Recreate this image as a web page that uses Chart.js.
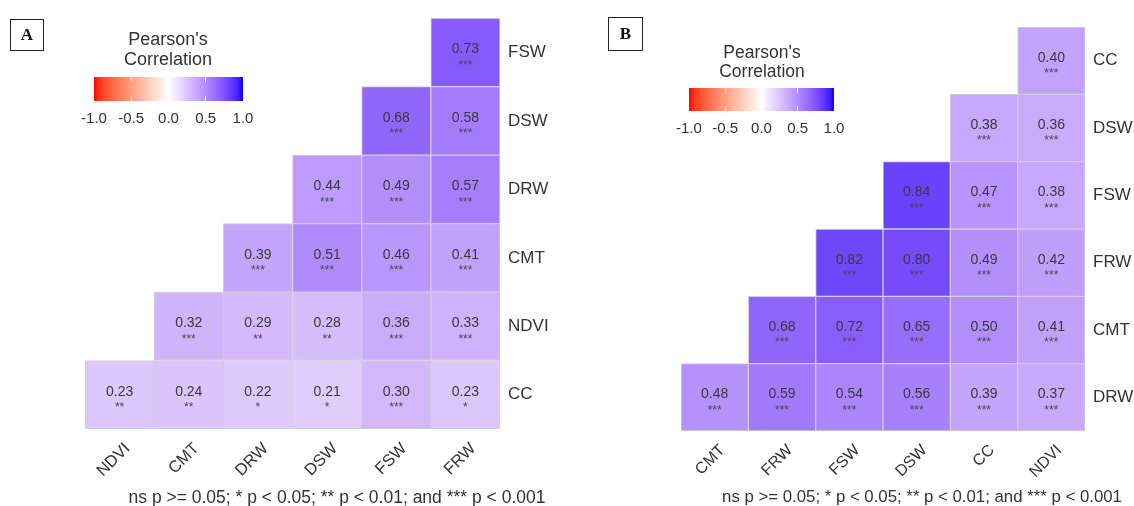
<!DOCTYPE html>
<html>
<head>
<meta charset="utf-8">
<script src="https://cdn.jsdelivr.net/npm/chart.js@4.4.1/dist/chart.umd.min.js"></script>
<style>
    body { margin: 0; background: #fff; width: 1134px; height: 506px; position: relative; overflow: hidden;
           font-family: "Liberation Sans", Arial, sans-serif; color: #333; }
    canvas { position: absolute; top: 0; }
    .tag { position: absolute; border: 1.5px solid #222; box-sizing: border-box; text-align: center;
           font: bold 17px "Liberation Serif", serif; color: #111; }
    .ttl { position: absolute; text-align: center; width: 200px; margin-left: -100px; color: #333; }
    .cbar { position: absolute; }
    .tk { position: absolute; width: 1px; background: #fff; }
    .tl { position: absolute; width: 40px; margin-left: -20px; text-align: center; line-height: 16px; color: #333; }
    .note { position: absolute; white-space: nowrap; transform: translateX(-50%); line-height: 20px; color: #333; }
</style>
</head>
<body>
<canvas id="heatA" width="567" height="506" style="left:0"></canvas>
<canvas id="heatB" width="567" height="506" style="left:567px"></canvas>

<script>
// panel A: rows listed bottom -> top
const colsA = ['NDVI', 'CMT', 'DRW', 'DSW', 'FSW', 'FRW'];
const rowsA = ['CC', 'NDVI', 'CMT', 'DRW', 'DSW', 'FSW'];
const corrA = [
    [0.23, 0.24, 0.22, 0.21, 0.30, 0.23],
    [null, 0.32, 0.29, 0.28, 0.36, 0.33],
    [null, null, 0.39, 0.51, 0.46, 0.41],
    [null, null, null, 0.44, 0.49, 0.57],
    [null, null, null, null, 0.68, 0.58],
    [null, null, null, null, null, 0.73]
];
const sigA = [
    ['**', '**', '*', '*', '***', '*'],
    ['', '***', '**', '**', '***', '***'],
    ['', '', '***', '***', '***', '***'],
    ['', '', '', '***', '***', '***'],
    ['', '', '', '', '***', '***'],
    ['', '', '', '', '', '***']
];

// panel B
const colsB = ['CMT', 'FRW', 'FSW', 'DSW', 'CC', 'NDVI'];
const rowsB = ['DRW', 'CMT', 'FRW', 'FSW', 'DSW', 'CC'];
const corrB = [
    [0.48, 0.59, 0.54, 0.56, 0.39, 0.37],
    [null, 0.68, 0.72, 0.65, 0.50, 0.41],
    [null, null, 0.82, 0.80, 0.49, 0.42],
    [null, null, null, 0.84, 0.47, 0.38],
    [null, null, null, null, 0.38, 0.36],
    [null, null, null, null, null, 0.40]
];
const sigB = [
    ['***', '***', '***', '***', '***', '***'],
    ['', '***', '***', '***', '***', '***'],
    ['', '', '***', '***', '***', '***'],
    ['', '', '', '***', '***', '***'],
    ['', '', '', '', '***', '***'],
    ['', '', '', '', '', '***']
];

const legendTicks = [-1.0, -0.5, 0.0, 0.5, 1.0];
const footnote = 'ns p >= 0.05; * p < 0.05; ** p < 0.01; and *** p < 0.001';

// red - white - blue, interpolated in CIELAB like ggplot's gradient2
const labWhite = [100, 0, 0];
const labRed = [53.24, 80.09, 67.20];
const labBlue = [32.30, 79.19, -107.86];

function labToRgb(L, a, b, haze) {
    const fy = (L + 16) / 116, fx = fy + a / 500, fz = fy - b / 200;
    const f = t => t * t * t > 0.008856 ? t * t * t : (t - 16 / 116) / 7.787;
    const X = 0.95047 * f(fx), Y = f(fy), Z = 1.08883 * f(fz);
    const lin = [
        3.2406 * X - 1.5372 * Y - 0.4986 * Z,
        -0.9689 * X + 1.8758 * Y + 0.0415 * Z,
        0.0557 * X - 0.2040 * Y + 1.0570 * Z
    ];
    const grey = [175, 170, 195];
    const out = lin.map((c, k) => {
        c = Math.min(1, Math.max(0, c));
        c = c <= 0.0031308 ? 12.92 * c : 1.055 * Math.pow(c, 1 / 2.4) - 0.055;
        return Math.round(c * 255 * (1 - haze) + grey[k] * haze);
    });
    return 'rgb(' + out.join(',') + ')';
}

function fillColor(v, haze) {
    const end = v < 0 ? labRed : labBlue;
    const t = Math.abs(v);
    return labToRgb(
        labWhite[0] + (end[0] - labWhite[0]) * t,
        labWhite[1] + (end[1] - labWhite[1]) * t,
        labWhite[2] + (end[2] - labWhite[2]) * t,
        haze || 0
    );
}

function cellTextPlugin(corr, sig) {
    return {
        id: 'cellText',
        afterDatasetsDraw(chart) {
            const ctx = chart.ctx;
            ctx.save();
            ctx.textAlign = 'center';
            ctx.textBaseline = 'middle';
            chart.data.datasets.forEach((ds, i) => {
                chart.getDatasetMeta(i).data.forEach((el, j) => {
                    if (corr[i][j] == null) return;
                    const cy = (el.y + el.base) / 2;
                    ctx.fillStyle = '#3a3a3a';
                    ctx.font = '14px "Liberation Sans", Arial, sans-serif';
                    ctx.fillText(corr[i][j].toFixed(2), el.x, cy - 3);
                    ctx.fillStyle = '#4a4a4a';
                    ctx.font = '12px "Liberation Sans", Arial, sans-serif';
                    ctx.fillText(sig[i][j], el.x, cy + 13);
                });
            });
            ctx.restore();
        }
    };
}

function heatmap(id, cols, rows, corr, sig, cfg) {
    const datasets = rows.map((r, i) => ({
        label: r,
        data: cols.map((c, j) => corr[i][j] == null ? null : [i - 0.5, i + 0.5]),
        backgroundColor: cols.map((c, j) => corr[i][j] == null ? 'rgba(0,0,0,0)' : fillColor(corr[i][j], 0.06)),
        borderColor: 'rgba(210,204,222,1)',
        borderWidth: 1,
        borderSkipped: false,
        barPercentage: 1,
        categoryPercentage: 1,
        grouped: false
    }));

    new Chart(document.getElementById(id).getContext('2d'), {
        type: 'bar',
        data: { labels: cols, datasets: datasets },
        options: {
            responsive: false,
            animation: false,
            devicePixelRatio: 1,
            layout: { padding: { left: cfg.left, top: cfg.top, right: 0, bottom: 0 } },
            plugins: { legend: { display: false }, tooltip: { enabled: false } },
            scales: {
                x: {
                    type: 'category',
                    offset: true,
                    grid: { display: false, drawTicks: false },
                    border: { display: false },
                    ticks: {
                        minRotation: 45, maxRotation: 45,
                        padding: 10,
                        labelOffset: 8,
                        color: '#333',
                        font: { family: '"Liberation Sans", Arial, sans-serif', size: cfg.xFont }
                    },
                    afterFit: s => { s.height = cfg.axisH; }
                },
                y: {
                    type: 'linear',
                    position: 'right',
                    min: -0.5, max: 5.5,
                    grid: { display: false, drawTicks: false },
                    border: { display: false },
                    afterBuildTicks: s => { s.ticks = rows.map((r, i) => ({ value: i })); },
                    ticks: {
                        padding: 8,
                        color: '#333',
                        font: { family: '"Liberation Sans", Arial, sans-serif', size: cfg.yFont },
                        callback: v => rows[v]
                    },
                    afterFit: s => { s.width = cfg.axisW; }
                }
            }
        },
        plugins: [cellTextPlugin(corr, sig)]
    });
}

function addEl(cls, css, text) {
    const d = document.createElement('div');
    d.className = cls;
    d.style.cssText = css;
    if (text != null) d.textContent = text;
    document.body.appendChild(d);
    return d;
}

function legendBlock(o) {
    addEl('tag', `left:${o.boxX}px;top:${o.boxY}px;width:${o.boxW}px;height:${o.boxH}px;line-height:${o.boxH - 3}px`, o.tag);
    const t = addEl('ttl', `left:${o.cx}px;top:${o.titleTop}px;font-size:${o.titleFont}px;line-height:${o.titleLH}px`);
    t.innerHTML = "Pearson's<br>Correlation";

    const stops = [];
    for (let k = 0; k <= 40; k++) {
        const v = -1 + k / 20;
        stops.push(fillColor(v, 0) + ' ' + (k * 2.5) + '%');
    }
    addEl('cbar', `left:${o.barX}px;top:${o.barY}px;width:${o.barW}px;height:${o.barH}px;background:linear-gradient(to right, ${stops.join(',')})`);
    legendTicks.forEach(v => {
        const x = o.barX + (v + 1) / 2 * o.barW;
        if (v > -1 && v < 1) {
            addEl('tk', `left:${x - 0.5}px;top:${o.barY}px;height:${o.barH / 5}px`);
            addEl('tk', `left:${x - 0.5}px;top:${o.barY + o.barH - o.barH / 5}px;height:${o.barH / 5}px`);
        }
        addEl('tl', `left:${x}px;top:${o.tickY - 8}px;font-size:${o.tickFont}px`, v.toFixed(1));
    });
    addEl('note', `left:${o.noteX}px;top:${o.noteY - 10}px;font-size:${o.noteFont}px`, footnote);
}

heatmap('heatA', colsA, rowsA, corrA, sigA, { left: 85, top: 16, axisW: 67, axisH: 77, xFont: 16.5, yFont: 17 });
heatmap('heatB', colsB, rowsB, corrB, sigB, { left: 114, top: 27, axisW: 49, axisH: 75, xFont: 16, yFont: 17 });

legendBlock({ tag: 'A', boxX: 10, boxY: 19, boxW: 34, boxH: 32, cx: 168, titleTop: 29, titleFont: 18, titleLH: 20,
              barX: 94, barY: 77, barW: 149, barH: 24, tickY: 118, tickFont: 15, noteX: 337, noteY: 497, noteFont: 17.5 });
legendBlock({ tag: 'B', boxX: 608, boxY: 17, boxW: 35, boxH: 34, cx: 762, titleTop: 43, titleFont: 17.5, titleLH: 19,
              barX: 689, barY: 88, barW: 145, barH: 23, tickY: 128, tickFont: 15, noteX: 922, noteY: 497, noteFont: 16.8 });
</script>
</body>
</html>
